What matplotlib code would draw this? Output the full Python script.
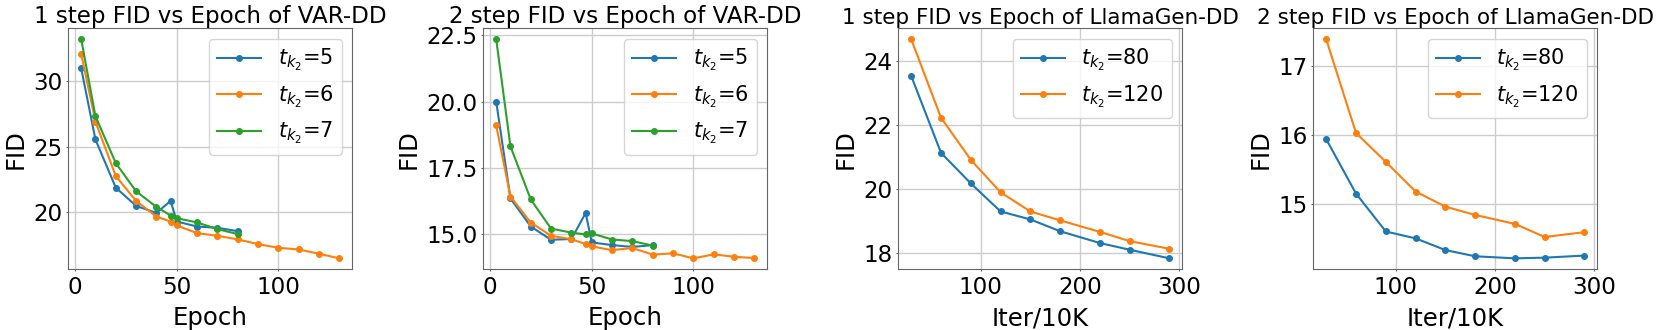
import matplotlib
matplotlib.use("Agg")
import matplotlib.pyplot as plt

# Panel 1: 1 step FID vs Epoch of VAR-DD
var_epochs_short = [3, 10, 20, 30, 40, 47, 50, 60, 70, 80]
var_epochs_long = [3, 10, 20, 30, 40, 47, 50, 60, 70, 80, 90, 100, 110, 120, 130]
var1_t5 = [31.0, 25.55, 21.86, 20.46, 19.92, 20.84, 19.26, 18.88, 18.78, 18.52]
var1_t6 = [32.11, 26.92, 22.75, 20.84, 19.64, 19.26, 18.96, 18.37, 18.17, 17.89,
           17.53, 17.25, 17.12, 16.79, 16.44]
var1_t7 = [33.23, 27.33, 23.74, 21.58, 20.38, 19.72, 19.52, 19.19, 18.68, 18.30]

# Panel 2: 2 step FID vs Epoch of VAR-DD
var2_t5 = [20.0, 16.35, 15.29, 14.79, 14.82, 15.80, 14.69, 14.59, 14.52, 14.59]
var2_t6 = [19.10, 16.42, 15.44, 14.94, 14.81, 14.63, 14.54, 14.40, 14.48, 14.23,
           14.28, 14.09, 14.24, 14.15, 14.10]
var2_t7 = [22.35, 18.31, 16.31, 15.21, 15.06, 14.99, 15.03, 14.80, 14.74, 14.57]

# Panels 3/4: LlamaGen-DD
llama_iters = [30, 60, 90, 120, 150, 180, 220, 250, 290]
llama1_t80 = [23.54, 21.13, 20.17, 19.29, 19.04, 18.67, 18.30, 18.09, 17.82]
llama1_t120 = [24.69, 22.23, 20.91, 19.89, 19.29, 19.01, 18.65, 18.36, 18.12]
llama2_t80 = [15.94, 15.15, 14.60, 14.50, 14.33, 14.24, 14.21, 14.22, 14.25]
llama2_t120 = [17.39, 16.03, 15.61, 15.18, 14.96, 14.84, 14.71, 14.52, 14.59]

titles = ["1 step FID vs Epoch of VAR-DD", "2 step FID vs Epoch of VAR-DD",
          "1 step FID vs Epoch of LlamaGen-DD", "2 step FID vs Epoch of LlamaGen-DD"]
title_sizes = [16.6, 16.6, 15.5, 15.5]
xlabels = ["Epoch", "Epoch", "Iter/10K", "Iter/10K"]

W, H = 1661, 330
fig = plt.figure(figsize=(W / 100, H / 100), dpi=100)

lefts = [68.3, 483.3, 898.3, 1313.3]
axw, top, bot = 284, 28.3, 269.3

panels = [
    [(var_epochs_short, var1_t5, "$t_{k_2}$=5"),
     (var_epochs_long, var1_t6, "$t_{k_2}$=6"),
     (var_epochs_short, var1_t7, "$t_{k_2}$=7")],
    [(var_epochs_short, var2_t5, "$t_{k_2}$=5"),
     (var_epochs_long, var2_t6, "$t_{k_2}$=6"),
     (var_epochs_short, var2_t7, "$t_{k_2}$=7")],
    [(llama_iters, llama1_t80, "$t_{k_2}$=80"),
     (llama_iters, llama1_t120, "$t_{k_2}$=120")],
    [(llama_iters, llama2_t80, "$t_{k_2}$=80"),
     (llama_iters, llama2_t120, "$t_{k_2}$=120")],
]
yticks = [[20, 25, 30], [15.0, 17.5, 20.0, 22.5], [18, 20, 22, 24], [15, 16, 17]]
xticks = [[0, 50, 100], [0, 50, 100], [100, 200, 300], [100, 200, 300]]

colors = ["#1f77b4", "#ff7f0e", "#2ca02c"]
for i in range(4):
    ax = fig.add_axes([lefts[i] / W, (H - bot) / H, axw / W, (bot - top) / H])
    for j, (xs, ys, lab) in enumerate(panels[i]):
        ax.plot(xs, ys, marker="o", markersize=4, linewidth=1.5,
                color=colors[j], label=lab)
    ax.set_title(titles[i], fontsize=title_sizes[i], pad=2)
    ax.set_xlabel(xlabels[i], fontsize=17.6, labelpad=5)
    ax.set_ylabel("FID", fontsize=17.6, labelpad=4)
    ax.set_yticks(yticks[i])
    ax.set_xticks(xticks[i])
    ax.tick_params(labelsize=16.6, length=1.5, color="#666666")
    ax.tick_params(axis="x", pad=3.5)
    ax.tick_params(axis="y", pad=2.5)
    ax.grid(True, color="#cccccc", linewidth=1)
    for s in ax.spines.values():
        s.set_color("#666666")
    ax.legend(fontsize=15, loc="upper right", handlelength=2.1)
    if i == 1:
        ax.set_yticklabels(["15.0", "17.5", "20.0", "22.5"])

fig.savefig("out.png", dpi=100)
